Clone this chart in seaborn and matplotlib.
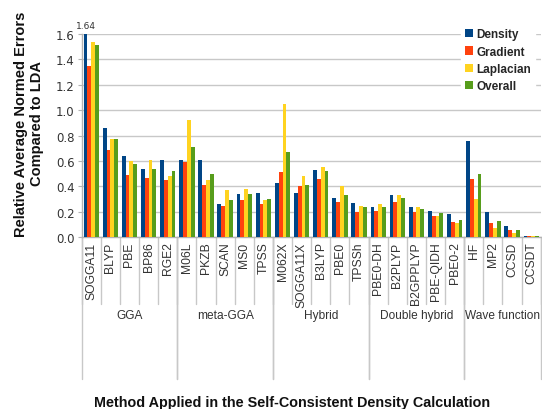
import matplotlib
matplotlib.use("Agg")
import matplotlib.pyplot as plt
import matplotlib.transforms as mtransforms
import numpy as np
import pandas as pd
import seaborn as sns

# Methods along the x axis, grouped by rung / family
methods = ["SOGGA11", "BLYP", "PBE", "BP86", "RGE2",
           "M06L", "PKZB", "SCAN", "MS0", "TPSS",
           "M062X", "SOGGA11X", "B3LYP", "PBE0", "TPSSh",
           "PBE0-DH", "B2PLYP", "B2GPPLYP", "PBE-QIDH", "PBE0-2",
           "HF", "MP2", "CCSD", "CCSDT"]
groups = ["GGA", "meta-GGA", "Hybrid", "Double hybrid", "Wave function"]
group_sizes = [5, 5, 5, 5, 4]

# Relative average normed errors (vs LDA)
density = [1.64, 0.86, 0.64, 0.54, 0.61,
           0.61, 0.61, 0.26, 0.34, 0.35,
           0.43, 0.35, 0.53, 0.31, 0.27,
           0.24, 0.33, 0.24, 0.21, 0.18,
           0.76, 0.20, 0.09, 0.01]
gradient = [1.35, 0.69, 0.49, 0.47, 0.45,
            0.59, 0.41, 0.25, 0.29, 0.26,
            0.51, 0.40, 0.46, 0.28, 0.20,
            0.21, 0.28, 0.20, 0.17, 0.12,
            0.46, 0.11, 0.06, 0.01]
laplacian = [1.54, 0.77, 0.60, 0.61, 0.48,
             0.92, 0.45, 0.37, 0.38, 0.29,
             1.05, 0.48, 0.55, 0.40, 0.25,
             0.26, 0.33, 0.24, 0.17, 0.11,
             0.30, 0.07, 0.03, 0.01]
overall = [1.51, 0.77, 0.58, 0.54, 0.52,
           0.71, 0.50, 0.29, 0.34, 0.30,
           0.67, 0.41, 0.52, 0.33, 0.24,
           0.24, 0.31, 0.22, 0.19, 0.14,
           0.50, 0.13, 0.06, 0.01]

series_names = ["Density", "Gradient", "Laplacian", "Overall"]
series_colors = ["#004586", "#ff420e", "#ffd320", "#579d1c"]
y_ticks = [0.0, 0.2, 0.4, 0.6, 0.8, 1.0, 1.2, 1.4, 1.6]

df = pd.DataFrame({
    "method": methods * 4,
    "series": np.repeat(series_names, len(methods)),
    "value": density + gradient + laplacian + overall,
})

sns.set_theme(style="white")
plt.rcParams["font.family"] = ["DejaVu Sans"]

fig = plt.figure(figsize=(5.42, 4.10), dpi=100)
ax = fig.add_axes([0.1507, 0.4188, 0.847, 0.4958])

sns.barplot(data=df, x="method", y="value", hue="series",
            hue_order=series_names, palette=series_colors,
            order=methods, errorbar=None, width=0.8, saturation=1,
            linewidth=0, ax=ax, zorder=3)

ax.set_ylim(0, 1.6)
ax.set_xlim(-0.5, len(methods) - 0.5)
ax.set_yticks(y_ticks)
ax.set_yticklabels([f"{t:.1f}" for t in y_ticks], fontsize=8.5, color="#333333")
ax.yaxis.grid(True, color="#c8c8c8", linewidth=1.0)
ax.set_axisbelow(True)
ax.tick_params(axis="y", which="major", direction="out", length=3,
               width=0.8, color="#b3b3b3", pad=2, left=True)
ax.tick_params(axis="x", length=0, pad=3)
ax.set_xticks(range(len(methods)))
ax.set_xticklabels(methods, rotation=90, fontsize=8.7, color="#333333",
                   va="top", family="Liberation Sans")
ax.set_xlabel("")
ax.set_ylabel("")
for side in ["top", "right"]:
    ax.spines[side].set_visible(False)
for side in ["left", "bottom"]:
    ax.spines[side].set_color("#b3b3b3")
    ax.spines[side].set_linewidth(1.0)

# Value label on the clipped bar
first_bar = ax.containers[0][0]
ax.annotate(f"{density[0]:.2f}",
            xy=(first_bar.get_x() + first_bar.get_width() / 2, 1.6),
            xytext=(0, 3), textcoords="offset points",
            ha="center", va="bottom", fontsize=6.5, color="#333333",
            annotation_clip=False)

# Category and group dividers below the axis
trans = mtransforms.blended_transform_factory(ax.transData, ax.transAxes)
for i in range(len(methods) + 1):
    ax.plot([i - 0.5, i - 0.5], [0, -0.328], transform=trans,
            color="#c8c8c8", linewidth=1.0, clip_on=False, zorder=1)
start = 0
for name, size in zip(groups, group_sizes):
    for b in (start, start + size):
        ax.plot([b - 0.5, b - 0.5], [0, -0.697], transform=trans,
                color="#c8c8c8", linewidth=1.0, clip_on=False, zorder=1)
    ax.text(start + (size - 1) / 2, -0.382, name, transform=trans,
            ha="center", va="center", fontsize=8.6, color="#333333",
            family="Liberation Sans")
    start += size

leg = ax.legend(loc="upper right", bbox_to_anchor=(1.0, 1.075),
                frameon=True, framealpha=1, edgecolor="white",
                fancybox=False, handlelength=0.7, handleheight=0.7,
                handletextpad=0.3, labelspacing=0.45, borderpad=0.3,
                prop={"family": "Liberation Sans", "weight": "bold", "size": 8.5})
leg.set_zorder(5)

fig.text(292.5 / 542, 1 - 403 / 410,
         "Method Applied in the Self-Consistent Density Calculation",
         ha="center", va="center", fontsize=10.4, fontweight="bold",
         family="Liberation Sans", color="#111111")
fig.text(29 / 542, 1 - 124 / 410,
         "Relative Average Normed Errors\nCompared to LDA",
         ha="center", va="center", rotation=90, fontsize=10.5,
         fontweight="bold", family="Liberation Sans", color="#111111",
         multialignment="center", linespacing=1.1)

fig.savefig("out.png", dpi=100, facecolor="white")
